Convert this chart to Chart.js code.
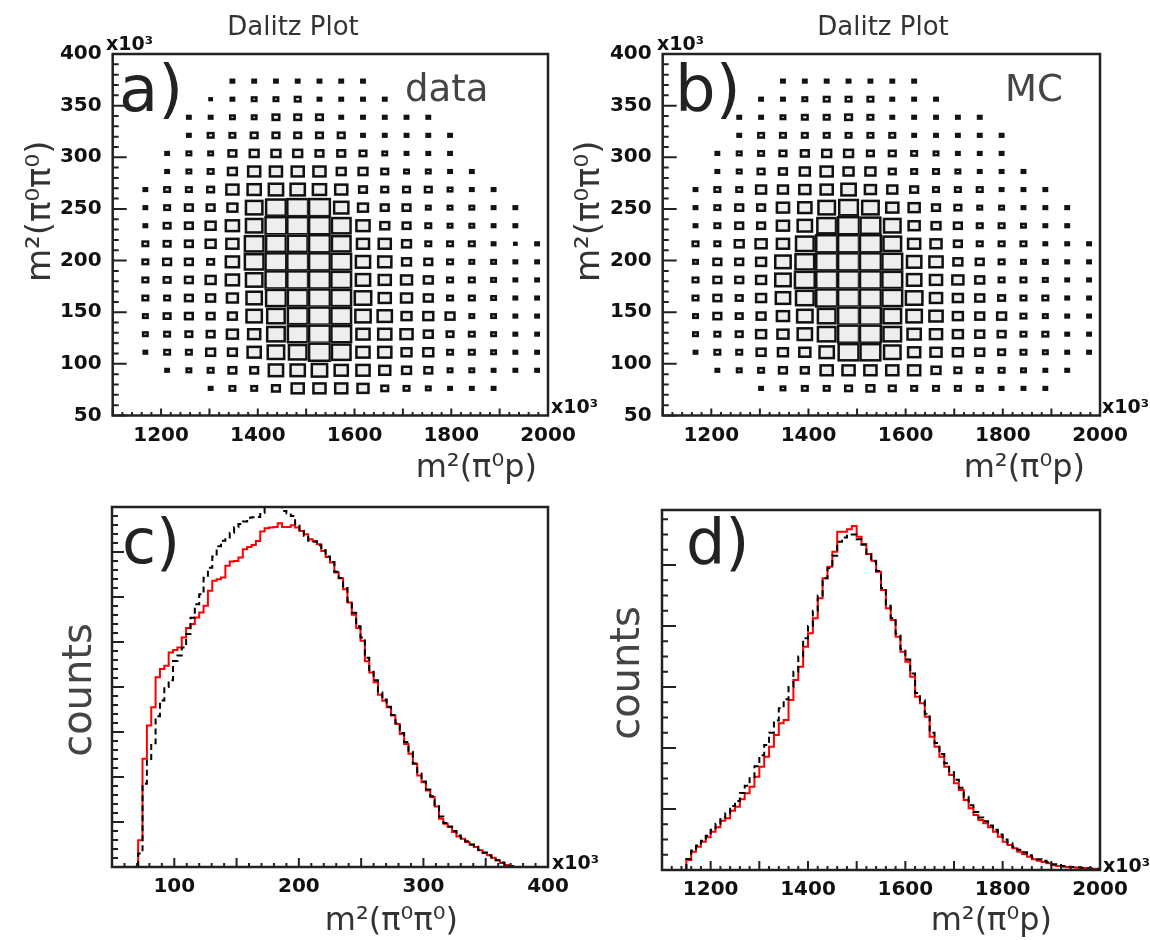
<!DOCTYPE html>
<html>
<head>
<meta charset="utf-8">
<script src="https://cdn.jsdelivr.net/npm/chart.js@4.4.1/dist/chart.umd.min.js"></script>
<style>
  html, body { margin: 0; padding: 0; background: #fff; }
  #page { position: relative; width: 1150px; height: 940px; }
  #page canvas { position: absolute; left: 0; top: 0; }
</style>
</head>
<body>
<div id="page">
  <canvas id="chartA" width="1150" height="940"></canvas>
  <canvas id="chartB" width="1150" height="940"></canvas>
  <canvas id="chartC" width="1150" height="940"></canvas>
  <canvas id="chartD" width="1150" height="940"></canvas>
</div>
<script>
// ---- Dalitz plot binning (x = m2(pi0 p), y = m2(pi0 pi0), both x10^3) ----
const dalitzX = [1167.5, 1212.5, 1257.5, 1302.5, 1347.5, 1392.5, 1437.5, 1482.5, 1527.5, 1572.5,
                 1617.5, 1662.5, 1707.5, 1752.5, 1797.5, 1842.5, 1887.5, 1932.5, 1977.5];
const dalitzY = [373.75, 356.25, 338.75, 321.25, 303.75, 286.25, 268.75, 251.25, 233.75,
                 216.25, 198.75, 181.25, 163.75, 146.25, 128.75, 111.25, 93.75, 76.25];
const dalitzBinW = 45;
const dalitzBinH = 17.5;
const countMax = 10;

// cell contents, one row per dalitzY entry (top to bottom), one column per dalitzX entry
const dataCounts = [
  [0,0,0,0,2,2,2,2,2,2,2,0,0,0,0,0,0,0,0],
  [0,0,0,1.5,2,2.5,2.5,3,2,2,2,2,0,0,0,0,0,0,0],
  [0,0,2,2,2.5,2.5,3.5,3.5,3.5,2,2,2,2,2,0,0,0,0,0],
  [0,0,2,3,3,3.5,3.5,3.5,3.5,3.5,2,2,2,2,2,0,0,0,0],
  [0,2,2.5,2.5,4,4.5,4.5,4.5,4,4,3.5,2.5,2,2,2,0,0,0,0],
  [0,2,2.5,3,4.5,6,6,6,6,4.5,4.5,3.5,2.5,2.5,2,2,0,0,0],
  [2,3,3,3.5,6,6.5,7,7,6.5,6,4,3.5,3.5,3.5,2.5,2,2,0,0],
  [2,3,4,4,5,8,9.5,10,10,7,5,4,4,2.5,2.5,2.5,2,2,0],
  [2,3.5,4,5,6.5,8,10,10,10,9,6.5,4.5,4,3,2.5,2.5,2,2,0],
  [3,3.5,4,5,6,9,9.5,9.5,10,9,6,6,4.5,3,3,3,2,1.5,2],
  [3,4,4,3.5,6.5,9,10,10,10,9.5,7,6.5,4.5,4,3,2.5,2.5,2,2],
  [3,3.5,4,5,6.5,8,10,10,10,9.5,7,6,5.5,4.5,3,3,2.5,2,2],
  [3,3,4,4.5,5.5,7.5,9.5,9.5,10,9.5,8,6,5.5,4.5,3,3,2.5,2,2],
  [2.5,3.5,4,4,4.5,7.5,8.5,9.5,10,9.5,7.5,7,5,5,4.5,2.5,2.5,2,2],
  [2.5,3,3.5,4,5.5,6,8.5,9.5,10,9.5,6.5,6.5,6,4.5,3.5,3,2.5,2,2],
  [2,3,3,4.5,4.5,6.5,8,8.5,10,9,6.5,6.5,5,5,3,3,2.5,2,2],
  [0,2,2.5,3,4,4,7,7,7.5,6.5,6.5,5.5,4.5,4,2.5,2.5,2,2,2],
  [0,0,0,2,3,3,4,6,6,6,5.5,3.5,3,2.5,2,2,2,0,0]
];
const mcCounts = [
  [0,0,0,0,2,2,2,2,2,2,2,0,0,0,0,0,0,0,0],
  [0,0,0,2,2,2.5,3,3,3,2,2,2,0,0,0,0,0,0,0],
  [0,0,2,2,2.5,3,3,3.5,3,2,2,2,2,2,0,0,0,0,0],
  [0,0,2,3,3,3,3,3,3,3,2,2,2,2,2,0,0,0,0],
  [0,2,2.5,3,3.5,4,4.5,4.5,3.5,3.5,3,2.5,2,2,2,0,0,0,0],
  [0,2,2.5,3.5,4,5,6,5,5,3.5,3,3,2.5,2,2,2,0,0,0],
  [2,3,3,5,5,5.5,6,7,5.5,5,4,3,3,3,2,2,2,0,0],
  [2,3,4,4,6,6.5,8,9,8,6,5.5,4,3.5,2.5,2.5,2,2,2,0],
  [2,3,4,4,6,7,9,10,9.5,8,5.5,4.5,4,3,3,2.5,2,2,0],
  [3,3,4.5,5.5,6,8.5,10,10,10,8.5,6,5.5,4,3,3,3,2,2,2],
  [2.5,4,4,5,7.5,9,10,10,10,9.5,7,6.5,4.5,4,3,2.5,2.5,2,2],
  [3,4,4,5,7.5,9.5,10,10,10,9.5,7,6,5.5,4.5,3,3,2.5,2,2],
  [3,4,3.5,5,7,8.5,10,10,10,9.5,8,6,5,4.5,3.5,3,3,2,2],
  [2.5,4,3.5,4.5,6,7.5,8.5,10,10,8.5,7.5,6.5,5,4.5,4.5,3,2.5,2,2],
  [2.5,3,3.5,5,5.5,7,8.5,10,10,8.5,6.5,6,5,4.5,4,3,3,2,2],
  [2,3,3,4.5,5,5.5,7,9.5,9.5,8,6,5.5,5,4.5,3.5,3,2.5,2,2],
  [0,2,2.5,3,4,4,6,6,6,6,6,4.5,3.5,3,3,2.5,2,2,0],
  [0,0,0,2,2.5,3,3,3.5,4,3.5,3,3,3,3,2,2,2,0,0]
];

// ---- projections ----
// m2(pi0 pi0): bins of 3.5, first filled bin starts at 71
const pipiBinStart = 71;
const pipiBinWidth = 3.5;
const pipiData = [592, 2403, 3142, 3549, 4215, 4400, 4473, 4769, 4821, 4880, 5102, 5309, 5398, 5546,
  5656, 5804, 6137, 6359, 6396, 6433, 6692, 6788, 6802, 6876, 7061, 7113, 7157, 7246, 7453, 7527,
  7542, 7557, 7638, 7557, 7557, 7594, 7542, 7468, 7394, 7283, 7246, 7172, 7024, 6891, 6766, 6544,
  6418, 6174, 5878, 5605, 5309, 5028, 4570, 4325, 4104, 3830, 3697, 3549, 3364, 3179, 2958, 2736,
  2514, 2292, 2033, 1885, 1701, 1553, 1346, 1072, 961, 887, 776, 680, 628, 555, 495, 444, 370, 311,
  259, 207, 148, 89, 44, 15];
const pipiMC = [300, 1850, 2400, 2750, 3350, 3700, 4000, 4150, 4580, 4700, 4880, 5180, 5540, 5840,
  6060, 6430, 6650, 6900, 7130, 7250, 7320, 7430, 7550, 7620, 7680, 7760, 7770, 7780, 7870, 7980,
  8000, 8010, 8000, 7910, 7860, 7800, 7620, 7470, 7360, 7250, 7230, 7150, 7040, 6900, 6780, 6560,
  6420, 6200, 5900, 5650, 5350, 5100, 4650, 4380, 4150, 3880, 3720, 3560, 3380, 3200, 2980, 2780,
  2560, 2300, 2080, 1900, 1720, 1570, 1380, 1120, 980, 900, 800, 700, 640, 570, 500, 450, 380, 320,
  260, 210, 150, 100, 50, 20];

// m2(pi0 p): bins of 10, first filled bin starts at 1150
const pipBinStart = 1150;
const pipBinWidth = 10;
const pipData = [164, 300, 382, 464, 535, 628, 699, 809, 847, 972, 1038, 1158, 1256, 1366, 1530, 1694,
  1857, 2021, 2213, 2404, 2458, 2786, 3114, 3332, 3660, 3879, 4125, 4452, 4780, 4971, 5217, 5545,
  5545, 5583, 5638, 5463, 5343, 5179, 5070, 4889, 4589, 4288, 4097, 3824, 3578, 3414, 3169, 2841,
  2732, 2513, 2185, 2021, 1857, 1694, 1557, 1420, 1311, 1147, 1011, 901, 819, 765, 699, 628, 546,
  464, 410, 355, 300, 262, 219, 175, 153, 131, 109, 76, 66, 55, 44, 44, 38, 33, 27, 22];
const pipMC = [180, 320, 400, 480, 560, 660, 760, 860, 930, 1050, 1130, 1260, 1380, 1520, 1700, 1880,
  2050, 2250, 2450, 2650, 2800, 3000, 3250, 3500, 3800, 4000, 4250, 4500, 4780, 4950, 5150, 5380,
  5450, 5480, 5500, 5420, 5330, 5180, 5060, 4900, 4620, 4330, 4130, 3870, 3620, 3450, 3220, 2900,
  2780, 2560, 2250, 2080, 1900, 1750, 1600, 1480, 1350, 1200, 1060, 950, 860, 800, 730, 660, 580,
  500, 440, 380, 330, 290, 240, 200, 175, 150, 125, 95, 80, 66, 55, 50, 44, 38, 30, 25, 20];

// tick labels
const pipTicks = [1200, 1400, 1600, 1800, 2000];
const pipiTicksY = [50, 100, 150, 200, 250, 300, 350, 400];
const pipiTicksX = [100, 200, 300, 400];

const FONT = 'DejaVu Sans';
const tickFont = { family: FONT, size: 20, weight: 'bold' };

function boxPoints(counts) {
  const pts = [];
  counts.forEach((row, i) => row.forEach((c, j) => {
    if (c > 0) pts.push({ x: dalitzX[j], y: dalitzY[i], c: c });
  }));
  return pts;
}

function histPoints(start, width, counts) {
  const pts = [{ x: start, y: 0 }];
  counts.forEach((v, i) => pts.push({ x: start + i * width, y: v }));
  pts.push({ x: start + counts.length * width, y: 0 });
  return pts;
}

// ROOT-like frame, inward ticks, box cells and free text
const rootFrame = {
  id: 'rootFrame',
  afterDatasetsDraw(chart, args, opts) {
    if (!opts.boxes) return;
    const { ctx, scales: { x, y } } = chart;
    const ds = chart.data.datasets[0];
    const bw = Math.abs(x.getPixelForValue(dalitzBinW) - x.getPixelForValue(0));
    const bh = Math.abs(y.getPixelForValue(dalitzBinH) - y.getPixelForValue(0));
    ctx.save();
    chart.getDatasetMeta(0).data.forEach((el, i) => {
      const f = ds.data[i].c / countMax;
      const w = bw * f + 1.5, h = bh * f + 1.5;
      ctx.fillStyle = '#eeeeee';
      ctx.fillRect(el.x - w / 2, el.y - h / 2, w, h);
      ctx.strokeStyle = '#111';
      ctx.lineWidth = 2.5;
      ctx.strokeRect(el.x - w / 2 + 1.25, el.y - h / 2 + 1.25, Math.max(w - 2.5, 0.5), Math.max(h - 2.5, 0.5));
    });
    ctx.restore();
  },
  afterDraw(chart, args, opts) {
    const { ctx, chartArea: a, scales: { x, y } } = chart;
    ctx.save();
    ctx.strokeStyle = '#222';
    ctx.lineWidth = 2;
    ctx.beginPath();
    const tickSet = (scale, from, to, step, len, horizontal) => {
      const n = Math.floor((to - from) / step + 1e-6);
      for (let k = 0; k <= n; k++) {
        const p = scale.getPixelForValue(from + k * step);
        if (horizontal) { ctx.moveTo(p, a.bottom); ctx.lineTo(p, a.bottom - len); }
        else { ctx.moveTo(a.left, p); ctx.lineTo(a.left + len, p); }
      }
    };
    opts.xTicks.forEach(t => tickSet(x, t[0], t[1], t[2], t[3], true));
    opts.yTicks.forEach(t => tickSet(y, t[0], t[1], t[2], t[3], false));
    ctx.stroke();
    ctx.lineWidth = 2.5;
    ctx.strokeRect(a.left, a.top, a.right - a.left, a.bottom - a.top);
    (opts.texts || []).forEach(t => {
      ctx.save();
      ctx.translate(t.x, t.y);
      if (t.rot) ctx.rotate(t.rot);
      ctx.font = (t.weight || 'normal') + ' ' + t.size + 'px "' + FONT + '"';
      ctx.fillStyle = t.color || '#333';
      ctx.textAlign = t.align || 'left';
      ctx.textBaseline = 'alphabetic';
      ctx.fillText(t.text, 0, 0);
      ctx.restore();
    });
    ctx.restore();
  }
};

function axis(min, max, labels, fit, horizontal, showLabels) {
  return {
    type: 'linear', min: min, max: max,
    grid: { display: false, drawTicks: false },
    border: { display: false },
    afterBuildTicks: s => { s.ticks = labels.map(v => ({ value: v })); },
    afterFit: s => { if (horizontal) s.height = fit; else s.width = fit; },
    ticks: {
      display: showLabels, font: tickFont, color: '#111', padding: horizontal ? 8 : 11,
      maxRotation: 0, autoSkip: false, callback: v => String(v)
    }
  };
}

function dalitzChart(id, counts, pad, letter, tag, off) {
  new Chart(document.getElementById(id), {
    type: 'scatter',
    data: { datasets: [{ data: boxPoints(counts), pointRadius: 0, pointHoverRadius: 0 }] },
    options: {
      responsive: false, animation: false, events: [],
      layout: { padding: pad },
      scales: {
        x: axis(1100, 2000, pipTicks, 54.5, true, true),
        y: axis(50, 400, pipiTicksY, off.yw, false, true)
      },
      plugins: {
        legend: { display: false }, tooltip: { enabled: false },
        rootFrame: {
          boxes: true,
          xTicks: [[1100, 2000, 20, 3.5], [1100, 2000, 100, 7]],
          yTicks: [[50, 400, 10, 6], [50, 400, 50, 14]],
          texts: [
            { text: 'Dalitz Plot', x: off.tx, y: 35, size: 26, color: '#333', align: 'center' },
            { text: letter, x: off.lx, y: 111, size: 64, color: '#222' },
            { text: tag, x: off.gx, y: 101, size: 37, color: '#444' },
            { text: 'x10³', x: off.ex, y: 50, size: 19, weight: 'bold', color: '#111' },
            { text: 'x10³', x: off.rx, y: 413, size: 19, weight: 'bold', color: '#111' },
            { text: 'm²(π⁰π⁰)', x: off.yx, y: 282, size: 34, color: '#333', rot: -Math.PI / 2 },
            { text: 'm²(π⁰p)', x: off.xx, y: 477, size: 32, color: '#333', align: 'right' }
          ]
        }
      }
    },
    plugins: [rootFrame]
  });
}

dalitzChart('chartA', dataCounts, { left: 0, top: 54, right: 602, bottom: 470 }, 'a)', 'data',
  { yw: 112.7, tx: 293, lx: 119, gx: 405, ex: 106, rx: 551, yx: 50, xx: 537 });
dalitzChart('chartB', mcCounts, { left: 562.7, top: 54, right: 50, bottom: 470 }, 'b)', 'MC',
  { yw: 100, tx: 883, lx: 675, gx: 1005, ex: 657, rx: 1102, yx: 599, xx: 1085 });

function projChart(id, pad, cfg) {
  new Chart(document.getElementById(id), {
    type: 'line',
    data: {
      datasets: [
        { data: histPoints(cfg.start, cfg.width, cfg.mc), stepped: true, borderColor: '#000',
          borderWidth: 2, borderDash: [6, 4], pointRadius: 0, fill: false },
        { data: histPoints(cfg.start, cfg.width, cfg.data), stepped: true, borderColor: '#ff0000',
          borderWidth: 2, pointRadius: 0, fill: false }
      ]
    },
    options: {
      responsive: false, animation: false, events: [],
      layout: { padding: pad },
      scales: {
        x: axis(cfg.xmin, cfg.xmax, cfg.labels, cfg.xh, true, true),
        y: axis(0, cfg.ymax, [], cfg.yw, false, false)
      },
      plugins: {
        legend: { display: false }, tooltip: { enabled: false },
        rootFrame: { xTicks: cfg.xTicks, yTicks: cfg.yTicks, texts: cfg.texts }
      }
    },
    plugins: [rootFrame]
  });
}

projChart('chartC', { left: 0, top: 507, right: 602, bottom: 0 }, {
  start: pipiBinStart, width: pipiBinWidth, data: pipiData, mc: pipiMC,
  xmin: 50, xmax: 400, ymax: 8000, labels: pipiTicksX, xh: 73, yw: 112,
  xTicks: [[50, 400, 10, 4], [50, 400, 50, 9]],
  yTicks: [[0, 8000, 200, 6], [0, 8000, 1000, 12]],
  texts: [
    { text: 'c)', x: 122, y: 563, size: 62, color: '#222' },
    { text: 'counts', x: 91, y: 690, size: 40, color: '#444', align: 'center', rot: -Math.PI / 2 },
    { text: 'x10³', x: 552, y: 869, size: 19, weight: 'bold', color: '#111' },
    { text: 'm²(π⁰π⁰)', x: 458, y: 930, size: 32, color: '#333', align: 'right' }
  ]
});

projChart('chartD', { left: 562, top: 510, right: 50, bottom: 0 }, {
  start: pipBinStart, width: pipBinWidth, data: pipData, mc: pipMC,
  xmin: 1100, xmax: 2000, ymax: 5900, labels: pipTicks, xh: 70, yw: 100,
  xTicks: [[1100, 2000, 20, 4], [1100, 2000, 100, 9]],
  yTicks: [[0, 5900, 250, 6], [0, 5900, 1000, 14]],
  texts: [
    { text: 'd)', x: 686, y: 563, size: 62, color: '#222' },
    { text: 'counts', x: 639, y: 673, size: 40, color: '#444', align: 'center', rot: -Math.PI / 2 },
    { text: 'x10³', x: 1103, y: 872, size: 19, weight: 'bold', color: '#111' },
    { text: 'm²(π⁰p)', x: 1052, y: 930, size: 32, color: '#333', align: 'right' }
  ]
});
</script>
</body>
</html>
